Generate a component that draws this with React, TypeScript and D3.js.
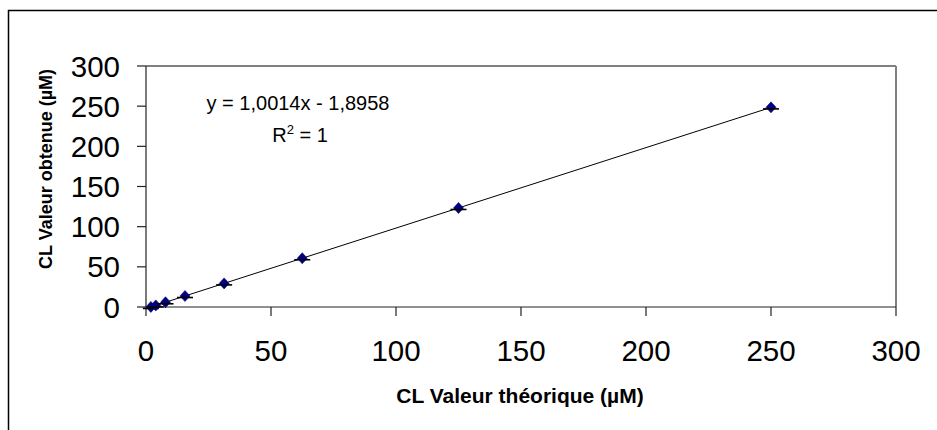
import React from "react";
import * as d3 from "d3";

const xValues = [1.95, 3.9, 7.8, 15.6, 31.25, 62.5, 125, 250];
const yValues = [0.1, 2.0, 5.9, 13.7, 29.4, 60.7, 123.3, 248.5];
const capValues = [-1.8, 0.1, 4.0, 11.8, 27.5, 58.8, 121.4, 246.6];
const xTicks = [0, 50, 100, 150, 200, 250, 300];
const yTicks = [0, 50, 100, 150, 200, 250, 300];
const slope = 1.0014;
const intercept = -1.8958;
const equationText = "y = 1,0014x - 1,8958";
const xTitle = "CL Valeur théorique (µM)";
const yTitle = "CL Valeur obtenue (µM)";

export default function App() {
  const W = 937, H = 430;
  const left = 146, right = 896, top = 66, bottom = 307;
  const x = d3.scaleLinear().domain([0, 300]).range([left, right]);
  const y = d3.scaleLinear().domain([0, 300]).range([bottom, top]);
  const font = "Liberation Sans, Arial, sans-serif";
  const x0 = d3.min(xValues)!, x1 = d3.max(xValues)!;
  const line = d3.line<number>().x((d) => x(d)).y((d) => y(slope * d + intercept));
  const diamond = "M0,-5.5L5,0L0,5.5L-5,0Z";

  return (
    <svg width={W} height={H} style={{ position: "absolute", left: 0, top: 0, background: "#fff" }}>
      <rect x={8.5} y={10.5} width={960} height={460} fill="#fff" stroke="#000" strokeWidth={1.5} />
      {/* plot frame top/right */}
      <line x1={left} x2={right} y1={top} y2={top} stroke="#808080" strokeWidth={2} />
      <line x1={right} x2={right} y1={top} y2={bottom} stroke="#808080" strokeWidth={2} />
      {/* axes */}
      <line x1={left} x2={left} y1={top} y2={bottom} stroke="#222" strokeWidth={1.2} />
      <line x1={left} x2={right} y1={bottom} y2={bottom} stroke="#222" strokeWidth={1.2} />
      {yTicks.map((t) => (
        <g key={"y" + t}>
          <line x1={left - 9} x2={left} y1={y(t)} y2={y(t)} stroke="#222" strokeWidth={1.2} />
          <text x={120} y={y(t)} dy="0.36em" textAnchor="end" fontFamily={font} fontSize={29.5} fill="#000">{t}</text>
        </g>
      ))}
      {xTicks.map((t) => (
        <g key={"x" + t}>
          <line x1={x(t)} x2={x(t)} y1={bottom} y2={bottom + 9} stroke="#222" strokeWidth={1.2} />
          <text x={x(t)} y={361} textAnchor="middle" fontFamily={font} fontSize={29.5} fill="#000">{t}</text>
        </g>
      ))}
      {/* trendline */}
      <path d={line([x0, x1]) || ""} fill="none" stroke="#000" strokeWidth={1} />
      {/* points */}
      {xValues.map((xv, i) => (
        <g key={"p" + i}>
          <path d={diamond} transform={`translate(${x(xv)},${y(yValues[i])})`} fill="#000080" stroke="#000080" strokeWidth={0.6} />
          <line x1={x(xv) - 8} x2={x(xv) + 8} y1={y(capValues[i])} y2={y(capValues[i])} stroke="#000" strokeWidth={1.6} />
        </g>
      ))}
      {/* equation */}
      <text x={298} y={110} textAnchor="middle" fontFamily={font} fontSize={20} fill="#000">{equationText}</text>
      <text x={300} y={142} textAnchor="middle" fontFamily={font} fontSize={20} fill="#000">
        R<tspan fontSize={13} dy={-8}>2</tspan><tspan dy={8}> = 1</tspan>
      </text>
      {/* titles */}
      <text x={520} y={403} textAnchor="middle" fontFamily={font} fontSize={21} fontWeight="bold" fill="#000">{xTitle}</text>
      <text transform={`translate(52,169) rotate(-90)`} textAnchor="middle" fontFamily={font} fontSize={18} fontWeight="bold" fill="#000">{yTitle}</text>
    </svg>
  );
}
